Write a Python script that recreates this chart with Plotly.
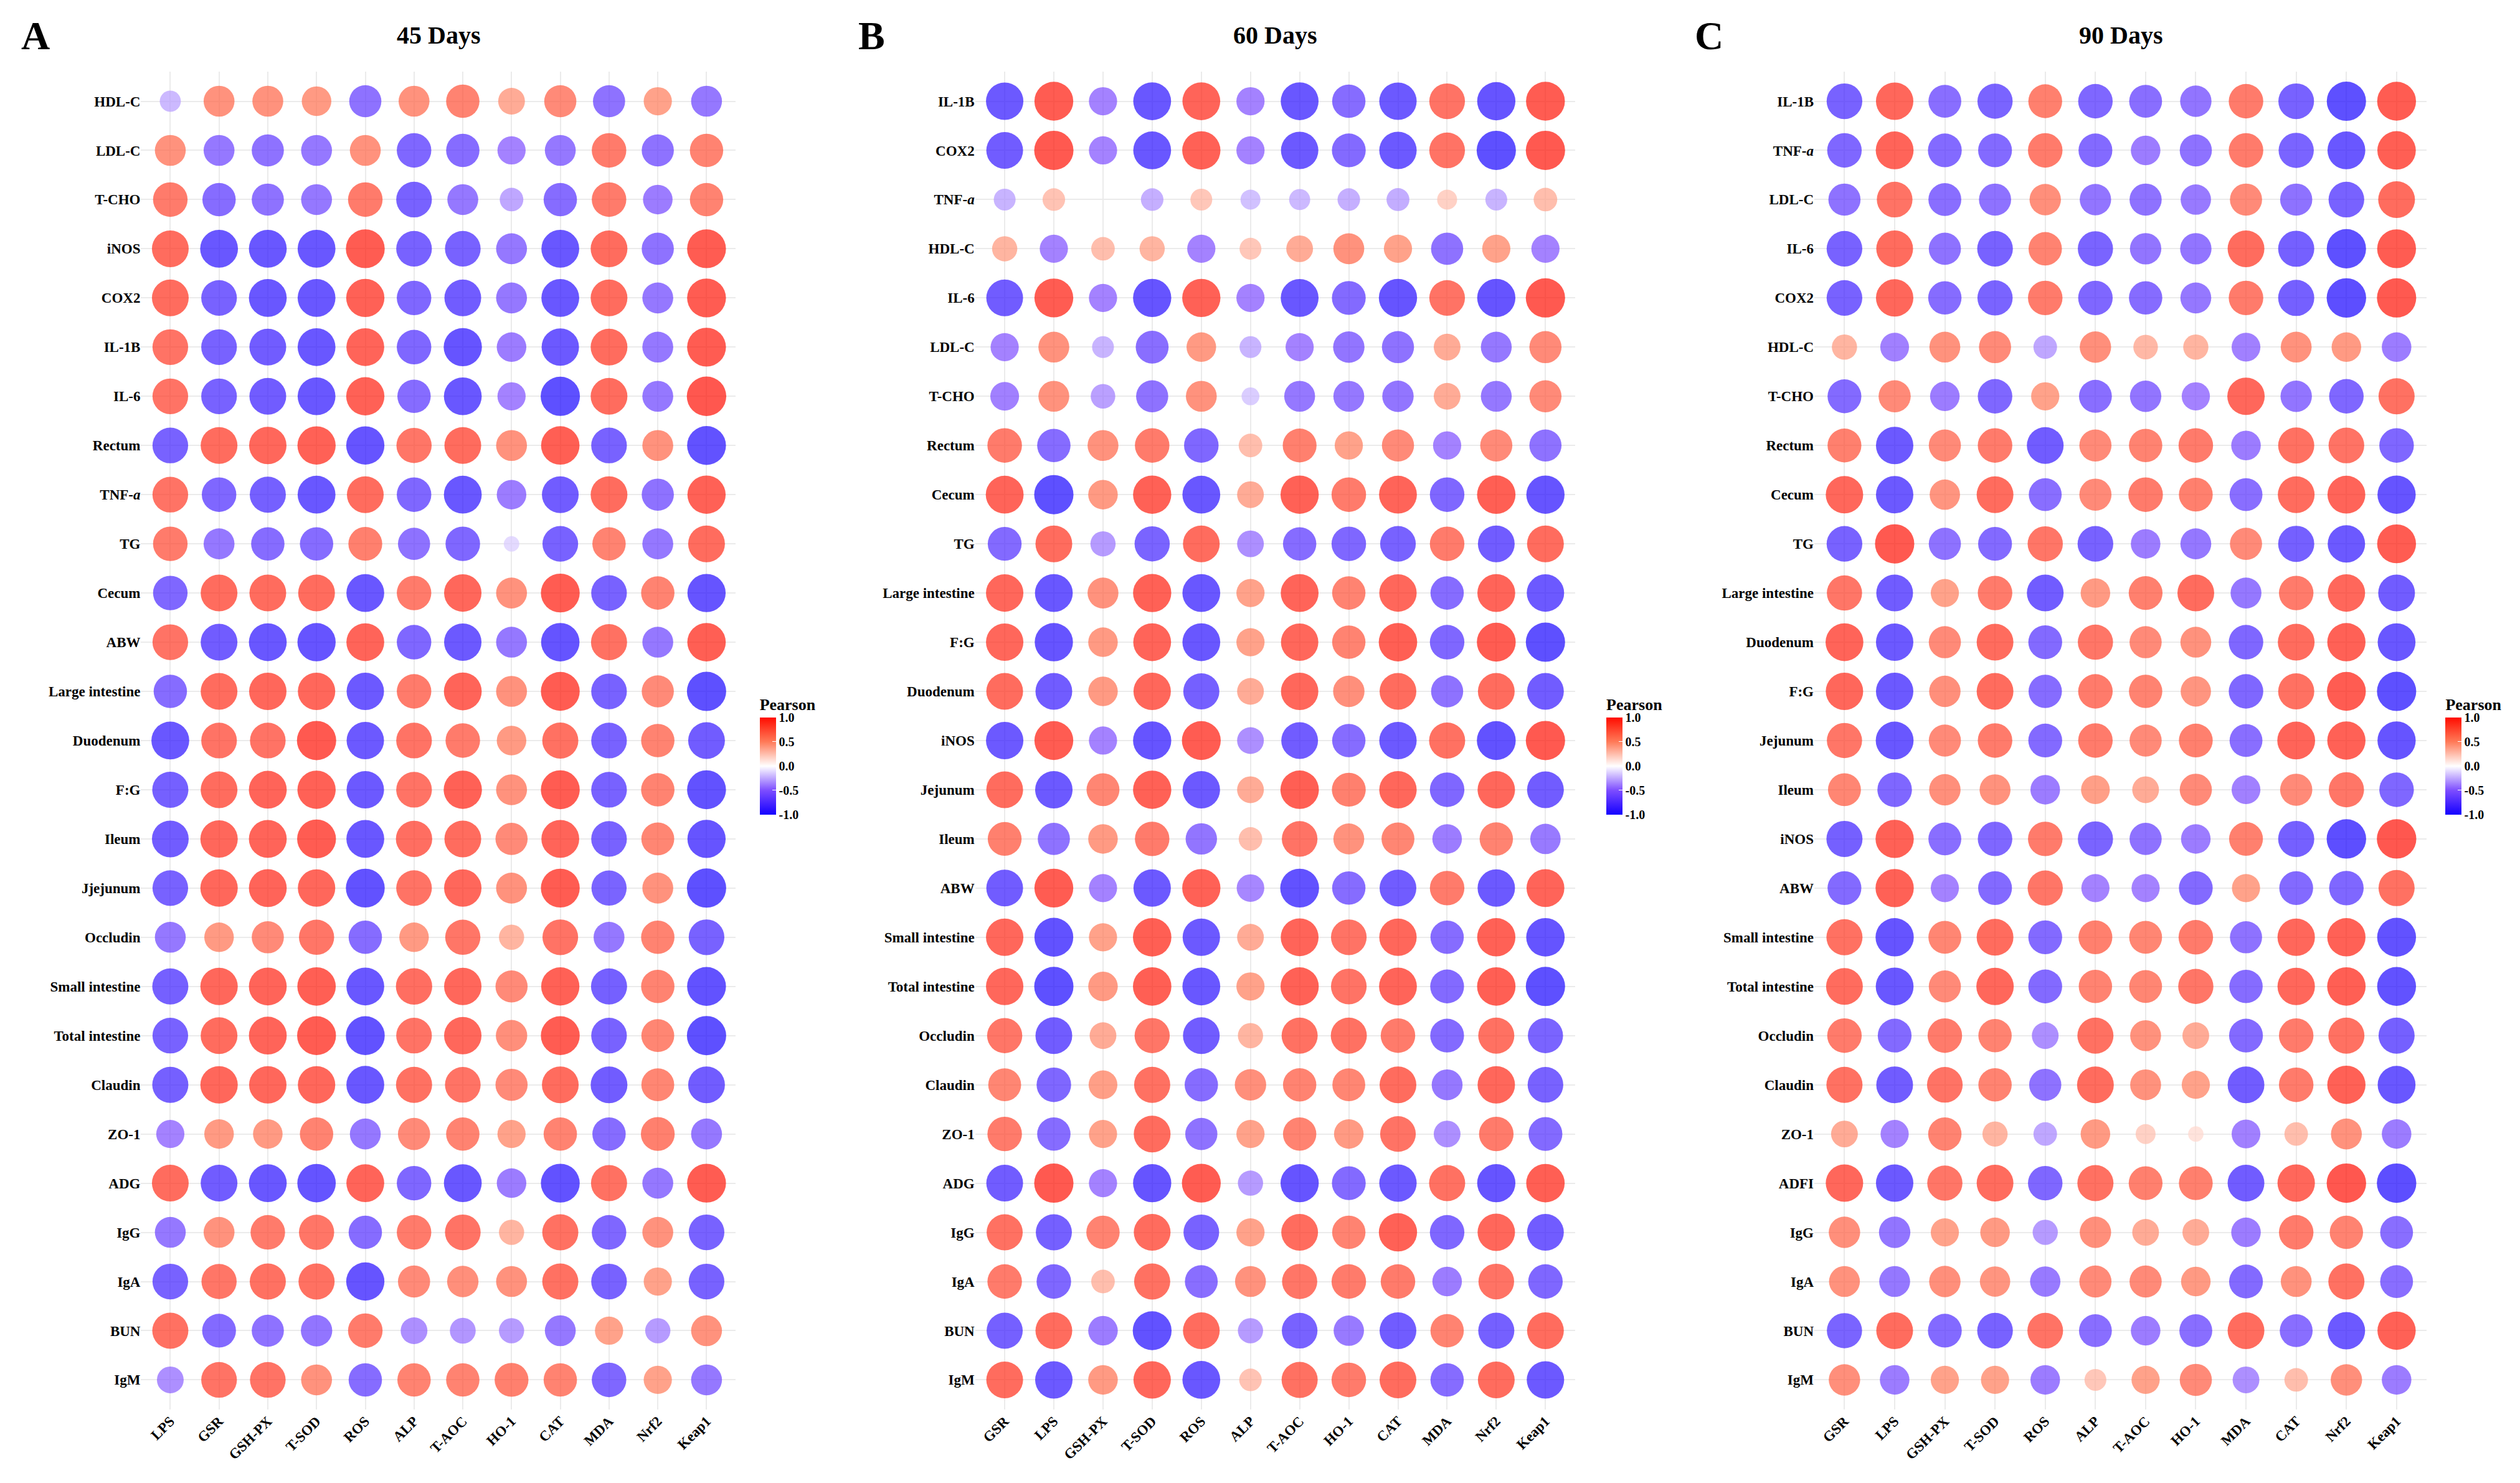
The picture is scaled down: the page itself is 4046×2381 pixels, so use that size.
import plotly.graph_objects as go

cols_A = ["LPS","GSR","GSH-PX","T-SOD","ROS","ALP","T-AOC","HO-1","CAT","MDA","Nrf2","Keap1"]
rows_A = ["HDL-C","LDL-C","T-CHO","iNOS","COX2","IL-1B","IL-6","Rectum","TNF-<i>a</i>","TG","Cecum","ABW",
          "Large intestine","Duodenum","F:G","Ileum","Jjejunum","Occludin","Small intestine","Total intestine",
          "Claudin","ZO-1","ADG","IgG","IgA","BUN","IgM"]
vals_A = [
 [-0.28,0.6,0.6,0.55,-0.65,0.6,0.7,0.45,0.65,-0.65,0.5,-0.6],
 [0.6,-0.6,-0.65,-0.6,0.6,-0.75,-0.7,-0.5,-0.6,0.75,-0.65,0.7],
 [0.75,-0.7,-0.65,-0.6,0.75,-0.8,-0.6,-0.35,-0.7,0.75,-0.55,0.7],
 [0.85,-0.9,-0.9,-0.9,0.95,-0.8,-0.8,-0.6,-0.9,0.85,-0.65,0.95],
 [0.85,-0.8,-0.9,-0.9,0.92,-0.75,-0.85,-0.6,-0.9,0.85,-0.6,0.95],
 [0.8,-0.8,-0.85,-0.9,0.9,-0.75,-0.92,-0.55,-0.88,0.85,-0.6,0.95],
 [0.8,-0.8,-0.85,-0.9,0.92,-0.7,-0.9,-0.5,-0.97,0.85,-0.6,0.98],
 [-0.8,0.85,0.88,0.92,-0.92,0.78,0.85,0.6,0.93,-0.8,0.6,-0.95],
 [0.8,-0.75,-0.82,-0.9,0.85,-0.75,-0.9,-0.55,-0.85,0.85,-0.65,0.92],
 [0.75,-0.6,-0.7,-0.7,0.72,-0.65,-0.75,-0.15,-0.8,0.7,-0.6,0.85],
 [-0.75,0.85,0.85,0.85,-0.9,0.75,0.88,0.6,0.95,-0.8,0.7,-0.92],
 [0.8,-0.85,-0.9,-0.92,0.9,-0.75,-0.88,-0.6,-0.93,0.82,-0.6,0.93],
 [-0.7,0.85,0.88,0.88,-0.88,0.75,0.9,0.6,0.95,-0.8,0.65,-0.97],
 [-0.9,0.8,0.8,0.97,-0.88,0.8,0.75,0.55,0.82,-0.8,0.7,-0.85],
 [-0.82,0.85,0.9,0.92,-0.88,0.8,0.92,0.6,0.95,-0.8,0.7,-0.95],
 [-0.85,0.88,0.9,0.95,-0.9,0.83,0.85,0.65,0.9,-0.8,0.68,-0.92],
 [-0.8,0.88,0.9,0.88,-0.95,0.8,0.88,0.6,0.95,-0.78,0.6,-0.97],
 [-0.6,0.55,0.65,0.78,-0.7,0.55,0.78,0.4,0.8,-0.6,0.7,-0.8],
 [-0.82,0.88,0.9,0.93,-0.9,0.83,0.88,0.65,0.92,-0.82,0.7,-0.95],
 [-0.8,0.85,0.9,0.95,-0.95,0.8,0.88,0.62,0.95,-0.8,0.68,-0.97],
 [-0.82,0.88,0.88,0.88,-0.9,0.82,0.8,0.65,0.85,-0.85,0.68,-0.85],
 [-0.5,0.55,0.55,0.7,-0.6,0.65,0.7,0.5,0.7,-0.7,0.72,-0.6],
 [0.85,-0.85,-0.9,-0.93,0.9,-0.75,-0.9,-0.55,-0.95,0.82,-0.6,0.95],
 [-0.6,0.6,0.75,0.78,-0.7,0.75,0.8,0.4,0.82,-0.75,0.6,-0.8],
 [-0.8,0.78,0.82,0.82,-0.92,0.65,0.62,0.6,0.82,-0.8,0.5,-0.8],
 [0.82,-0.72,-0.65,-0.62,0.75,-0.45,-0.42,-0.4,-0.6,0.5,-0.4,0.6],
 [-0.45,0.8,0.8,0.6,-0.7,0.7,0.7,0.72,0.7,-0.75,0.5,-0.6],
]

cols_B = ["GSR","LPS","GSH-PX","T-SOD","ROS","ALP","T-AOC","HO-1","CAT","MDA","Nrf2","Keap1"]
rows_B = ["IL-1B","COX2","TNF-<i>a</i>","HDL-C","IL-6","LDL-C","T-CHO","Rectum","Cecum","TG","Large intestine",
          "F:G","Duodenum","iNOS","Jejunum","Ileum","ABW","Small intestine","Total intestine","Occludin",
          "Claudin","ZO-1","ADG","IgG","IgA","BUN","IgM"]
vals_B = [
 [-0.88,0.95,-0.5,-0.9,0.9,-0.5,-0.9,-0.7,-0.88,0.8,-0.92,0.95],
 [-0.85,0.97,-0.5,-0.9,0.92,-0.5,-0.88,-0.72,-0.88,0.8,-0.97,0.97],
 [-0.3,0.32,0.0,-0.32,0.3,-0.25,-0.28,-0.32,-0.33,0.25,-0.3,0.35],
 [0.4,-0.5,0.35,0.4,-0.5,0.3,0.45,0.6,0.5,-0.65,0.5,-0.5],
 [-0.85,0.95,-0.5,-0.92,0.92,-0.5,-0.9,-0.72,-0.92,0.8,-0.92,0.97],
 [-0.5,0.6,-0.3,-0.68,0.55,-0.3,-0.5,-0.62,-0.65,0.45,-0.6,0.65],
 [-0.52,0.6,-0.38,-0.65,0.6,-0.2,-0.6,-0.6,-0.62,0.45,-0.6,0.65],
 [0.75,-0.7,0.6,0.75,-0.75,0.35,0.72,0.5,0.65,-0.5,0.65,-0.65],
 [0.9,-0.97,0.55,0.92,-0.9,0.45,0.92,0.75,0.9,-0.75,0.93,-0.92],
 [-0.72,0.85,-0.4,-0.78,0.85,-0.45,-0.7,-0.75,-0.8,0.75,-0.85,0.85],
 [0.88,-0.9,0.6,0.92,-0.9,0.5,0.9,0.7,0.88,-0.7,0.9,-0.88],
 [0.88,-0.92,0.55,0.9,-0.9,0.5,0.88,0.7,0.93,-0.75,0.95,-0.97],
 [0.85,-0.85,0.55,0.88,-0.82,0.45,0.88,0.62,0.85,-0.65,0.85,-0.85],
 [-0.88,0.95,-0.5,-0.92,0.95,-0.45,-0.85,-0.7,-0.88,0.82,-0.95,0.97],
 [0.85,-0.88,0.68,0.92,-0.88,0.45,0.93,0.72,0.88,-0.75,0.88,-0.85],
 [0.72,-0.65,0.55,0.75,-0.62,0.35,0.8,0.6,0.68,-0.55,0.7,-0.58],
 [-0.85,0.95,-0.5,-0.88,0.92,-0.48,-0.95,-0.7,-0.85,0.75,-0.88,0.9],
 [0.88,-0.95,0.5,0.93,-0.88,0.45,0.9,0.8,0.88,-0.7,0.92,-0.93],
 [0.88,-0.97,0.55,0.93,-0.9,0.5,0.92,0.8,0.9,-0.72,0.93,-0.97],
 [0.78,-0.85,0.45,0.78,-0.85,0.4,0.82,0.82,0.75,-0.72,0.82,-0.78],
 [0.68,-0.75,0.52,0.82,-0.7,0.62,0.7,0.68,0.85,-0.6,0.88,-0.8],
 [0.75,-0.7,0.5,0.85,-0.65,0.5,0.7,0.55,0.8,-0.45,0.75,-0.72],
 [-0.85,0.97,-0.5,-0.92,0.95,-0.4,-0.92,-0.72,-0.88,0.82,-0.92,0.93],
 [0.82,-0.82,0.7,0.85,-0.8,0.5,0.85,0.7,0.92,-0.75,0.88,-0.85],
 [0.75,-0.75,0.35,0.82,-0.68,0.6,0.78,0.75,0.75,-0.55,0.8,-0.75],
 [-0.82,0.85,-0.55,-0.95,0.85,-0.4,-0.8,-0.58,-0.85,0.7,-0.82,0.85],
 [0.85,-0.88,0.55,0.88,-0.9,0.32,0.82,0.75,0.85,-0.7,0.85,-0.88],
]

cols_C = ["GSR","LPS","GSH-PX","T-SOD","ROS","ALP","T-AOC","HO-1","MDA","CAT","Nrf2","Keap1"]
rows_C = ["IL-1B","TNF-<i>a</i>","LDL-C","IL-6","COX2","HDL-C","T-CHO","Rectum","Cecum","TG","Large intestine",
          "Duodenum","F:G","Jejunum","Ileum","iNOS","ABW","Small intestine","Total intestine","Occludin",
          "Claudin","ZO-1","ADFI","IgG","IgA","BUN","IgM"]
vals_C = [
 [-0.8,0.88,-0.68,-0.78,0.72,-0.75,-0.68,-0.62,0.75,-0.8,-0.97,0.95],
 [-0.75,0.9,-0.72,-0.72,0.75,-0.72,-0.55,-0.65,0.75,-0.78,-0.9,0.93],
 [-0.65,0.8,-0.68,-0.65,0.62,-0.62,-0.65,-0.58,0.65,-0.65,-0.8,0.85],
 [-0.8,0.85,-0.65,-0.8,0.7,-0.78,-0.62,-0.62,0.85,-0.82,-0.97,0.95],
 [-0.8,0.88,-0.7,-0.78,0.75,-0.75,-0.7,-0.6,0.75,-0.82,-0.98,0.97],
 [0.4,-0.52,0.6,0.65,-0.35,0.62,0.38,0.4,-0.52,0.6,0.55,-0.55],
 [-0.72,0.65,-0.55,-0.75,0.5,-0.68,-0.62,-0.5,0.88,-0.62,-0.75,0.82],
 [0.72,-0.88,0.65,0.75,-0.85,0.65,0.7,0.75,-0.55,0.82,0.8,-0.75],
 [0.88,-0.88,0.58,0.85,-0.68,0.65,0.75,0.72,-0.68,0.85,0.9,-0.92],
 [-0.8,0.97,-0.65,-0.72,0.78,-0.8,-0.55,-0.6,0.65,-0.82,-0.88,0.95],
 [0.78,-0.85,0.5,0.75,-0.85,0.55,0.72,0.85,-0.6,0.75,0.88,-0.85],
 [0.9,-0.88,0.65,0.85,-0.72,0.78,0.65,0.6,-0.75,0.85,0.92,-0.9],
 [0.88,-0.88,0.62,0.85,-0.7,0.75,0.7,0.58,-0.75,0.82,0.95,-0.97],
 [0.78,-0.9,0.65,0.75,-0.72,0.75,0.65,0.72,-0.68,0.9,0.92,-0.92],
 [0.68,-0.75,0.62,0.6,-0.55,0.52,0.45,0.65,-0.52,0.65,0.78,-0.75],
 [-0.82,0.92,-0.68,-0.75,0.75,-0.78,-0.65,-0.55,0.72,-0.82,-0.98,0.98],
 [-0.72,0.92,-0.5,-0.72,0.78,-0.5,-0.5,-0.72,0.5,-0.72,-0.75,0.82],
 [0.82,-0.92,0.68,0.85,-0.72,0.72,0.68,0.75,-0.65,0.88,0.92,-0.95],
 [0.85,-0.9,0.65,0.88,-0.72,0.7,0.68,0.78,-0.7,0.88,0.93,-0.95],
 [0.75,-0.72,0.75,0.7,-0.45,0.82,0.6,0.45,-0.72,0.75,0.82,-0.82],
 [0.82,-0.85,0.8,0.7,-0.65,0.85,0.6,0.5,-0.85,0.75,0.92,-0.9],
 [0.45,-0.5,0.7,0.4,-0.35,0.55,0.25,0.15,-0.52,0.35,0.6,-0.55],
 [0.88,-0.88,0.78,0.85,-0.75,0.82,0.72,0.72,-0.85,0.88,0.98,-0.98],
 [0.62,-0.62,0.5,0.55,-0.4,0.62,0.45,0.45,-0.55,0.75,0.7,-0.68],
 [0.6,-0.6,0.62,0.58,-0.58,0.65,0.65,0.55,-0.72,0.6,0.82,-0.68],
 [-0.78,0.85,-0.72,-0.8,0.8,-0.68,-0.55,-0.68,0.85,-0.68,-0.88,0.92],
 [0.62,-0.55,0.5,0.5,-0.55,0.3,0.5,0.65,-0.45,0.35,0.62,-0.55],
]

titles = ["45 Days", "60 Days", "90 Days"]
letters = ["A", "B", "C"]

scale = [[0.0, "#1400ff"], [0.25, "#7d4dff"], [0.5, "#ffffff"], [0.75, "#ff7a58"], [1.0, "#ff0c00"]]
FONT = "Liberation Serif"

xdoms = [(0.054, 0.290), (0.385, 0.623), (0.718, 0.961)]
cbx = [0.297, 0.633, 0.966]
ydom = (0.053, 0.955)

fig = go.Figure()
panels = [(cols_A, rows_A, vals_A), (cols_B, rows_B, vals_B), (cols_C, rows_C, vals_C)]
layout = dict(
    width=4046, height=2381, paper_bgcolor="white", plot_bgcolor="white",
    margin=dict(l=0, r=0, t=0, b=0), showlegend=False,
    font=dict(family=FONT, color="black"), annotations=[],
)
for i, (cols, rows, vals) in enumerate(panels):
    xs, ys, cs, ss = [], [], [], []
    for r, row in zip(rows, vals):
        for c, v in zip(cols, row):
            xs.append(c); ys.append(r); cs.append(v); ss.append(64 * abs(v) ** 0.5)
    sfx = "" if i == 0 else str(i + 1)
    ca = "coloraxis" + sfx
    fig.add_trace(go.Scatter(
        x=xs, y=ys, mode="markers", xaxis="x" + sfx, yaxis="y" + sfx,
        marker=dict(size=ss, color=cs, coloraxis=ca, line=dict(width=0)),
    ))
    layout["xaxis" + sfx] = dict(
        domain=xdoms[i], anchor="y" + sfx, type="category", categoryorder="array", categoryarray=cols,
        range=[-0.6, len(cols) - 0.4], showgrid=True, gridcolor="#ebebeb", gridwidth=2,
        zeroline=False, showline=False, ticks="", tickangle=-45,
        tickfont=dict(family=FONT, size=23, color="black", weight="bold"),
    )
    layout["yaxis" + sfx] = dict(
        domain=ydom, anchor="x" + sfx, type="category", categoryorder="array", categoryarray=rows[::-1],
        range=[-0.6, len(rows) - 0.4], showgrid=True, gridcolor="#ebebeb", gridwidth=2,
        zeroline=False, showline=False, ticks="", ticklen=8,
        tickfont=dict(family=FONT, size=23, color="black", weight="bold"),
    )
    layout[ca] = dict(
        cmin=-1, cmax=1, colorscale=scale,
        colorbar=dict(
            x=cbx[i], xanchor="left", y=0.494, yanchor="middle", len=0.088, lenmode="fraction",
            thickness=26, outlinewidth=0, tickvals=[-1, -0.5, 0, 0.5, 1],
            ticktext=["-1.0", "-0.5", "0.0", "0.5", "1.0"], ticks="inside", ticklen=6, tickcolor="white",
            tickfont=dict(family=FONT, size=20, color="black", weight="bold"),
            title=dict(text="<b>Pearson</b>", side="top", font=dict(family=FONT, size=26)),
        ),
    )
    cx = (xdoms[i][0] + xdoms[i][1]) / 2
    layout["annotations"].append(dict(
        text="<b>" + titles[i] + "</b>", x=cx, y=0.99, xref="paper", yref="paper",
        xanchor="center", yanchor="top", showarrow=False, font=dict(family=FONT, size=40)))
    layout["annotations"].append(dict(
        text="<b>" + letters[i] + "</b>", x=[0.006, 0.338, 0.670][i], y=0.995, xref="paper", yref="paper",
        xanchor="left", yanchor="top", showarrow=False, font=dict(family=FONT, size=64)))

fig.update_layout(**layout)
fig.write_html("out.html")
